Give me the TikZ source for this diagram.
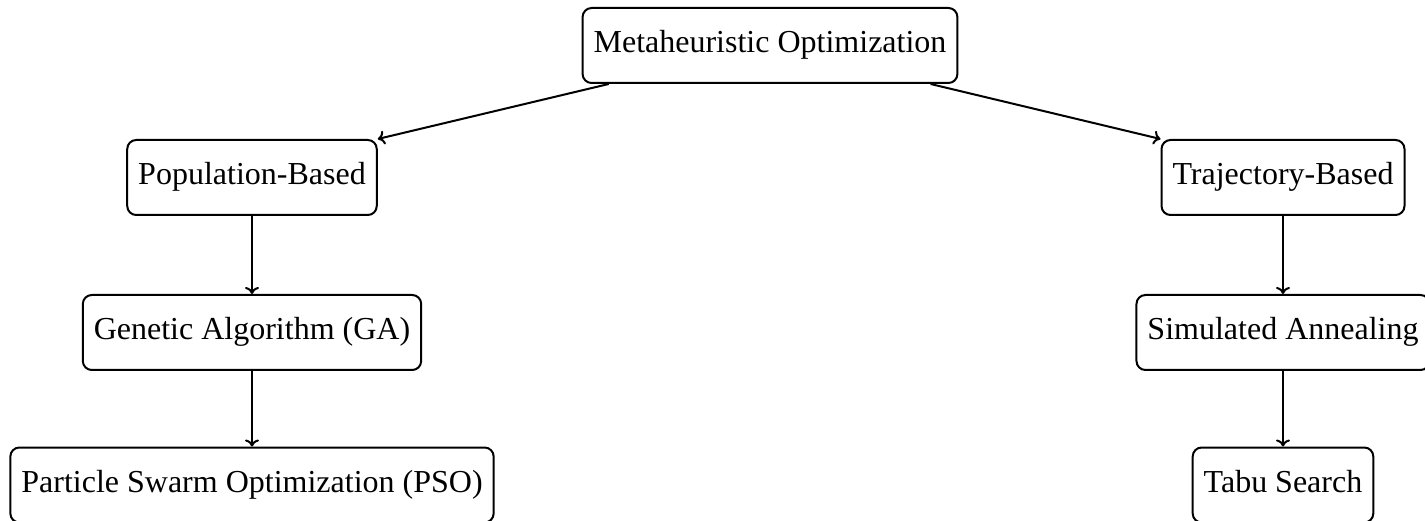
\documentclass[tikz,border=0pt]{standalone}
\usetikzlibrary{arrows.meta}
\usepackage{fontspec}
\setmainfont{Liberation Serif}
\begin{document}
\begin{tikzpicture}[x=1pt,y=1pt,
  box/.style={draw, line width=2pt, rounded corners=9pt, minimum height=75pt, inner xsep=11pt, text height=22pt, text depth=7pt, font=\fontsize{32}{38}\selectfont},
  link/.style={-{To[length=7pt,width=14pt]}, line width=2pt}]
\useasboundingbox (0,0) rectangle (1425,520);
\node[box] (meta) at (770,474.5) {Metaheuristic Optimization};
\node[box] (pop) at (252,342.5) {Population-Based};
\node[box] (traj) at (1283,342.5) {Trajectory-Based};
\node[box] (ga) at (252,187.5) {Genetic Algorithm (GA)};
\node[box] (sa) at (1283,187.5) {Simulated Annealing};
\node[box] (pso) at (252,35) {Particle Swarm Optimization (PSO)};
\node[box] (tabu) at (1283,35) {Tabu Search};
\draw[link] (meta) -- (pop.north east);
\draw[link] (meta) -- (traj.north west);
\draw[link] (pop) -- (ga);
\draw[link] (ga) -- (pso);
\draw[link] (traj) -- (sa);
\draw[link] (sa) -- (tabu);
\end{tikzpicture}
\end{document}
